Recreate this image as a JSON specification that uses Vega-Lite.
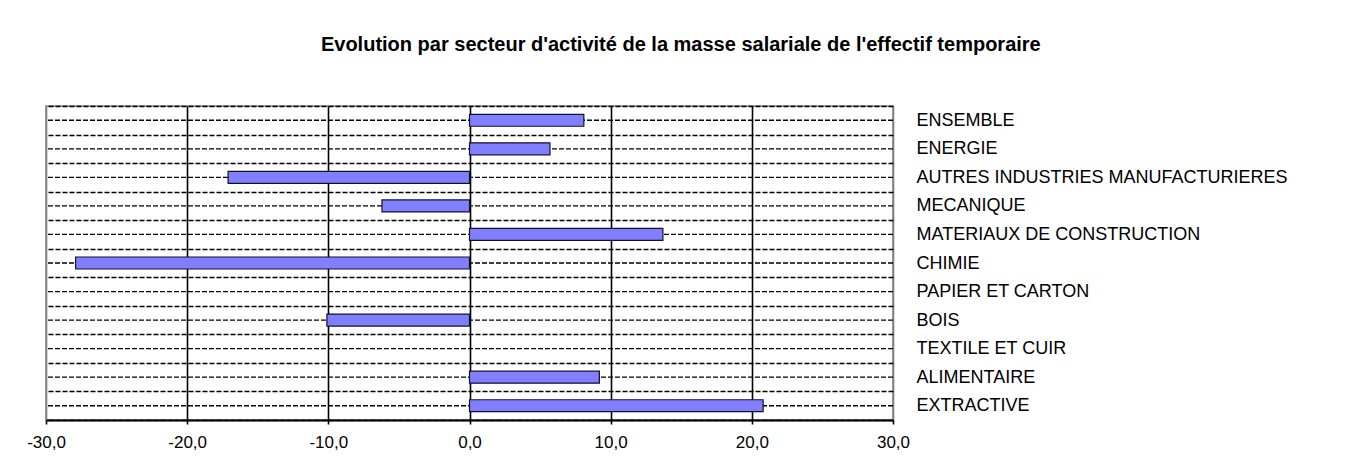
{
  "$schema": "https://vega.github.io/schema/vega-lite/v6.json",
  "width": 847,
  "height": 314,
  "autosize": {"type": "none"},
  "padding": {"left": 46, "top": 106, "right": 462, "bottom": 56},
  "background": "white",
  "title": {
    "text": "Evolution par secteur d'activité de la masse salariale de l'effectif temporaire",
    "font": "Liberation Sans",
    "fontSize": 20,
    "fontWeight": "bold",
    "color": "black",
    "anchor": "middle",
    "frame": "bounds",
    "offset": 42,
    "dx": 24
  },
  "data": {
    "values": [
      {"secteur": "ENSEMBLE", "valeur": 8.1},
      {"secteur": "ENERGIE", "valeur": 5.7},
      {"secteur": "AUTRES INDUSTRIES MANUFACTURIERES", "valeur": -17.1},
      {"secteur": "MECANIQUE", "valeur": -6.2},
      {"secteur": "MATERIAUX DE CONSTRUCTION", "valeur": 13.7},
      {"secteur": "CHIMIE", "valeur": -27.9},
      {"secteur": "PAPIER ET CARTON", "valeur": null},
      {"secteur": "BOIS", "valeur": -10.1},
      {"secteur": "TEXTILE ET CUIR", "valeur": null},
      {"secteur": "ALIMENTAIRE", "valeur": 9.2},
      {"secteur": "EXTRACTIVE", "valeur": 20.8}
    ]
  },
  "encoding": {
    "y": {
      "field": "secteur",
      "type": "nominal",
      "sort": null,
      "scale": {
        "domain": ["ENSEMBLE", "ENERGIE", "AUTRES INDUSTRIES MANUFACTURIERES", "MECANIQUE", "MATERIAUX DE CONSTRUCTION", "CHIMIE", "PAPIER ET CARTON", "BOIS", "TEXTILE ET CUIR", "ALIMENTAIRE", "EXTRACTIVE"],
        "paddingInner": 0,
        "paddingOuter": 0
      },
      "axis": {
        "orient": "right",
        "title": null,
        "domain": false,
        "ticks": false,
        "tickSize": 0,
        "tickBand": "extent",
        "grid": true,
        "gridColor": "black",
        "gridDash": [5, 2],
        "gridWidth": 1.3,
        "labelFont": "Liberation Sans",
        "labelFontSize": 18,
        "labelColor": "black",
        "labelPadding": 23,
        "labelAlign": "left",
        "labelBaseline": "middle",
        "labelLimit": 0
      }
    }
  },
  "layer": [
    {
      "mark": {"type": "rule", "color": "black", "strokeDash": [5, 2], "strokeWidth": 1.3},
      "encoding": {}
    },
    {
      "mark": {"type": "bar", "fill": "#8080FF", "stroke": "#101030", "strokeWidth": 1.2, "height": {"band": 0.42}},
      "encoding": {
        "x": {
          "field": "valeur",
          "type": "quantitative",
          "scale": {"domain": [-30, 30], "nice": false},
          "axis": {
            "title": null,
            "values": [-30, -20, -10, 0, 10, 20, 30],
            "grid": true,
            "gridColor": {"condition": {"test": "abs(datum.value) == 30", "value": "#808080"}, "value": "black"},
            "gridWidth": 1.6,
            "domainColor": "black",
            "domainWidth": 1.8,
            "tickColor": "black",
            "tickSize": 4,
            "tickWidth": 1.6,
            "labelFont": "Liberation Sans",
            "labelFontSize": 17,
            "labelColor": "black",
            "labelPadding": 10,
            "labelFlush": false,
            "labelOverlap": false,
            "labelExpr": "replace(replace(format(datum.value, '.1f'), '.', ','), '−', '-')"
          }
        }
      }
    }
  ],
  "config": {
    "view": {"stroke": "#808080", "strokeWidth": 1.5}
  }
}
